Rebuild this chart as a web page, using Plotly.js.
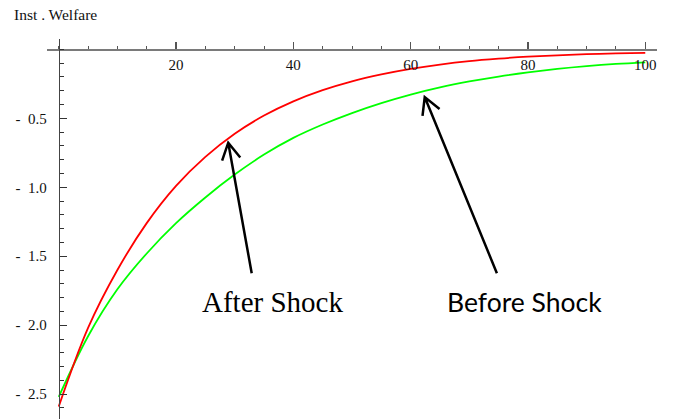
<!DOCTYPE html>
<html>
<head>
<meta charset="utf-8">
<script src="https://cdn.plot.ly/plotly-3.0.1.min.js"></script>
<style>
  html, body { margin: 0; padding: 0; background: #fff; }
  #plot { width: 677px; height: 419px; }
</style>
</head>
<body>
<div id="plot"></div>
<script>
// Time grid
const t = [0, 5, 10, 15, 20, 25, 30, 35, 40, 45, 50, 55, 60, 65, 70, 75, 80, 85, 90, 95, 100];

// Instantaneous welfare after the shock
const welfareAfter = [-2.59, -2.02, -1.60, -1.26, -0.99, -0.78, -0.612, -0.48, -0.377, -0.296, -0.232,
                      -0.182, -0.142, -0.11, -0.085, -0.067, -0.053, -0.043, -0.035, -0.029, -0.025];

// Instantaneous welfare before the shock
const welfareBefore = [-2.52, -2.08, -1.74, -1.48, -1.26, -1.074, -0.908, -0.763, -0.642, -0.545, -0.462,
                       -0.39, -0.328, -0.276, -0.233, -0.197, -0.167, -0.142, -0.122, -0.106, -0.094];

// Axis ticks
const xTickVals = [20, 40, 60, 80, 100];
const yTickVals = [-0.5, -1.0, -1.5, -2.0, -2.5];
const yTickText = ['-\u00a0\u00a00.5', '-\u00a0\u00a01.0', '-\u00a0\u00a01.5', '-\u00a0\u00a02.0', '-\u00a0\u00a02.5'];

// Callout arrows: tip and tail in data units
const arrowAfter  = { tip: [28.9, -0.677], tail: [32.9, -1.623] };
const arrowBefore = { tip: [62.4, -0.346], tail: [74.7, -1.623] };

const xRange = [-2, 102];
const yRange = [-2.68, 0.075];

const W = 677, H = 419;
const margin = { l: 47, r: 20, t: 39, b: 0 };
const pxPerX = (W - margin.l - margin.r) / (xRange[1] - xRange[0]);
const pxPerY = (H - margin.t - margin.b) / (yRange[1] - yRange[0]);

const serif = 'Liberation Serif, Times New Roman, serif';

// Open "V" arrow head built in screen space, returned as a data-space path
function arrowPath(a, headLen, halfAngleDeg) {
  const [tx, ty] = a.tip, [sx, sy] = a.tail;
  // screen-space direction from tip toward tail (y grows downward on screen)
  let dx = (sx - tx) * pxPerX, dy = -(sy - ty) * pxPerY;
  const len = Math.hypot(dx, dy);
  dx /= len; dy /= len;
  const ang = halfAngleDeg * Math.PI / 180;
  const wing = (s) => {
    const c = Math.cos(s * ang), n = Math.sin(s * ang);
    const wx = dx * c - dy * n, wy = dx * n + dy * c;
    return [tx + wx * headLen / pxPerX, ty - wy * headLen / pxPerY];
  };
  const l = wing(1), r = wing(-1);
  return `M${l[0]},${l[1]} L${tx},${ty} L${r[0]},${r[1]} M${tx},${ty} L${sx},${sy}`;
}

const traces = [
  {
    x: t, y: welfareBefore, type: 'scatter', mode: 'lines',
    line: { color: '#00ff00', width: 1.8, shape: 'spline' },
    name: 'Before Shock', hoverinfo: 'skip'
  },
  {
    x: t, y: welfareAfter, type: 'scatter', mode: 'lines',
    line: { color: '#ff0000', width: 1.8, shape: 'spline' },
    name: 'After Shock', hoverinfo: 'skip'
  }
];

// Axes cross at the origin
const xAxisPos = (0 - yRange[0]) / (yRange[1] - yRange[0]);
const yAxisPos = (0 - xRange[0]) / (xRange[1] - xRange[0]);

const layout = {
  width: W, height: H,
  margin: Object.assign({ pad: 0 }, margin),
  paper_bgcolor: '#fff', plot_bgcolor: '#fff',
  showlegend: false,
  xaxis: {
    range: xRange, anchor: 'free', position: xAxisPos, side: 'bottom',
    showgrid: false, zeroline: false,
    showline: true, linecolor: '#7a7a7a', linewidth: 1.3,
    tickmode: 'array', tickvals: xTickVals,
    ticks: 'inside', ticklen: 7, tickwidth: 1.2, tickcolor: '#555',
    ticklabelstandoff: 1,
    tickfont: { family: serif, size: 15, color: '#111' },
    minor: { tickmode: 'linear', tick0: 0, dtick: 5, ticks: 'inside', ticklen: 3.5, tickwidth: 1, tickcolor: '#555', showgrid: false }
  },
  yaxis: {
    range: yRange, anchor: 'free', position: yAxisPos, side: 'left',
    showgrid: false, zeroline: false,
    showline: true, linecolor: '#444', linewidth: 1.3,
    tickmode: 'array', tickvals: yTickVals, ticktext: yTickText,
    ticks: 'inside', ticklen: 7, tickwidth: 1.2, tickcolor: '#333',
    ticklabelstandoff: 9,
    tickfont: { family: serif, size: 15, color: '#111' },
    minor: { tickmode: 'linear', tick0: 0, dtick: 0.1, ticks: 'inside', ticklen: 4, tickwidth: 1, tickcolor: '#333', showgrid: false }
  },
  shapes: [
    { type: 'path', xref: 'x', yref: 'y', path: arrowPath(arrowAfter, 19, 29), line: { color: '#000', width: 2.5 } },
    { type: 'path', xref: 'x', yref: 'y', path: arrowPath(arrowBefore, 19, 29), line: { color: '#000', width: 2.5 } }
  ],
  annotations: [
    {
      text: 'Inst . Welfare', xref: 'paper', yref: 'paper',
      x: -0.057, y: 1.064, xanchor: 'left', yanchor: 'middle', showarrow: false,
      font: { family: serif, size: 15.5, color: '#111' }
    },
    {
      text: 't', xref: 'x', yref: 'y',
      x: 104.3, y: 0.01, xanchor: 'left', yanchor: 'middle', showarrow: false,
      font: { family: serif, size: 16, color: '#111' }
    },
    {
      text: 'After Shock', xref: 'x', yref: 'y',
      x: 36.46, y: -1.831, xanchor: 'center', yanchor: 'middle', showarrow: false,
      font: { family: serif, size: 29, color: '#000' }
    },
    {
      text: 'Before Shock', xref: 'x', yref: 'y',
      x: 79.4, y: -1.831, xanchor: 'center', yanchor: 'middle', showarrow: false,
      font: { family: 'Lato, Noto Sans, sans-serif', size: 26.5, color: '#000' }
    }
  ]
};

Plotly.newPlot('plot', traces, layout, { staticPlot: true, displayModeBar: false });
</script>
</body>
</html>
